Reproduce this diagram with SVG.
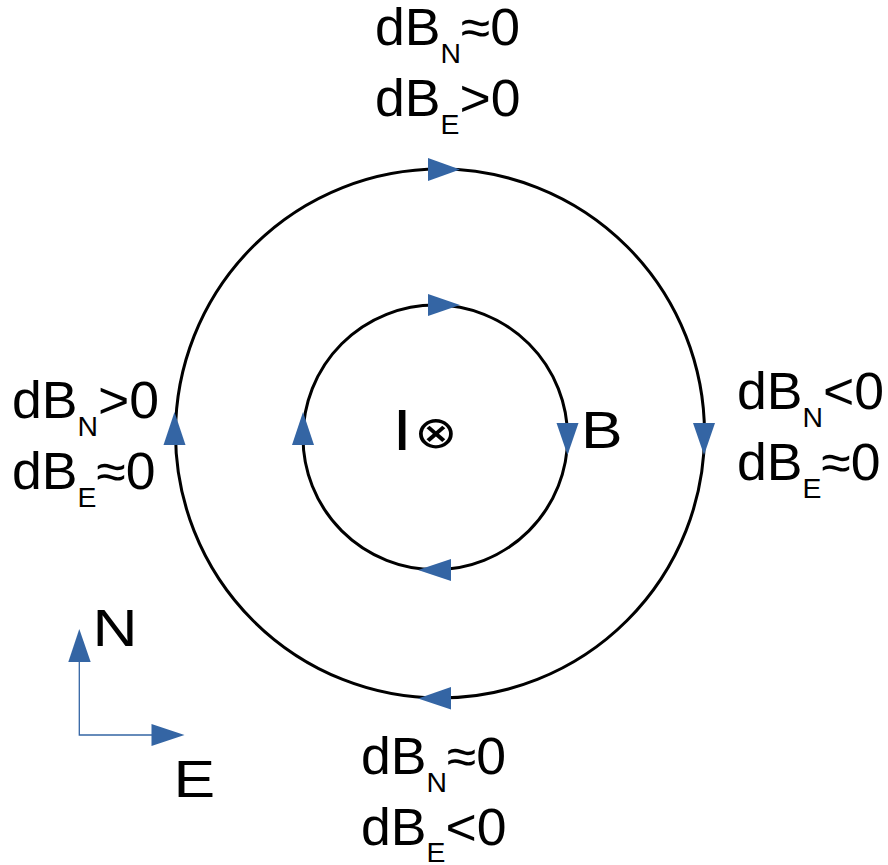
<svg xmlns="http://www.w3.org/2000/svg" width="888" height="865" viewBox="0 0 888 865">
<style>
.t{font-family:"Liberation Sans",Arial,sans-serif;font-size:51px;fill:#000}
.sub{font-size:27px}
.big{font-family:"Liberation Sans",Arial,sans-serif;font-size:52px;fill:#000}
.sym{font-family:"DejaVu Sans",sans-serif;font-size:45px;fill:#000}
.ring{fill:none;stroke:#000;stroke-width:3}
.ah{fill:#3465a4}
.ax{stroke:#3465a4;stroke-width:1.3;fill:none}
</style>
<rect width="888" height="865" fill="#fff"/>
<g id="outer-loop">
<circle class="ring" cx="440" cy="433.5" r="264.5"/>
</g>
<g id="inner-loop">
<circle class="ring" cx="435.3" cy="437.3" r="132.3"/>
</g>
<g id="connectors">
<polygon class="ah" points="428,158 460,169.5 428,181"/>
<polygon class="ah" points="693,423 715,423 704,455"/>
<polygon class="ah" points="451,687 451,709.5 418,698.5"/>
<polygon class="ah" points="163.5,445 185.5,445 174.5,412"/>
<polygon class="ah" points="428,294 460,305 428,316"/>
<polygon class="ah" points="556.5,423 578.5,423 567.5,455"/>
<polygon class="ah" points="451,559 451,581 418,570"/>
<polygon class="ah" points="292,445 314,445 303,412"/>
<path class="ax" d="M79.3,661 V735 H152"/>
<polygon class="ah" points="68.3,662 90.7,662 79.3,629"/>
<polygon class="ah" points="151.5,724 151.5,746 184.5,735"/>
</g>
<g id="label-top">
<text class="t" transform="matrix(1.05 0 0 1 375 45)">dB<tspan class="sub" dy="18">N</tspan><tspan dy="-18">≈0</tspan></text>
<text class="t" transform="matrix(1.05 0 0 1 375 116)">dB<tspan class="sub" dy="18">E</tspan><tspan dy="-18">&gt;0</tspan></text>
</g>
<g id="label-right">
<text class="t" transform="matrix(1.05 0 0 1 737 409)">dB<tspan class="sub" dy="18">N</tspan><tspan dy="-18">&lt;0</tspan></text>
<text class="t" transform="matrix(1.05 0 0 1 737 480)">dB<tspan class="sub" dy="18">E</tspan><tspan dy="-18">≈0</tspan></text>
</g>
<g id="label-left">
<text class="t" transform="matrix(1.05 0 0 1 12 418)">dB<tspan class="sub" dy="18">N</tspan><tspan dy="-18">&gt;0</tspan></text>
<text class="t" transform="matrix(1.05 0 0 1 12 489)">dB<tspan class="sub" dy="18">E</tspan><tspan dy="-18">≈0</tspan></text>
</g>
<g id="label-bottom">
<text class="t" transform="matrix(1.05 0 0 1 361 774)">dB<tspan class="sub" dy="18">N</tspan><tspan dy="-18">≈0</tspan></text>
<text class="t" transform="matrix(1.05 0 0 1 361 845)">dB<tspan class="sub" dy="17">E</tspan><tspan dy="-17">&lt;0</tspan></text>
</g>
<g id="current">
<text class="big" style="font-size:58px" transform="matrix(1.2 0 0 1 392.5 450)">I</text>
<text class="sym" transform="matrix(1.15 0 0 1 436 448)" text-anchor="middle">⊗</text>
</g>
<g id="label-B">
<text class="big" transform="matrix(1.2 0 0 1 581 448)">B</text>
</g>
<g id="axes">
<text class="big" transform="matrix(1.2 0 0 1 92.6 646)">N</text>
<text class="big" transform="matrix(1.2 0 0 1 173.4 797)">E</text>
</g>
</svg>
